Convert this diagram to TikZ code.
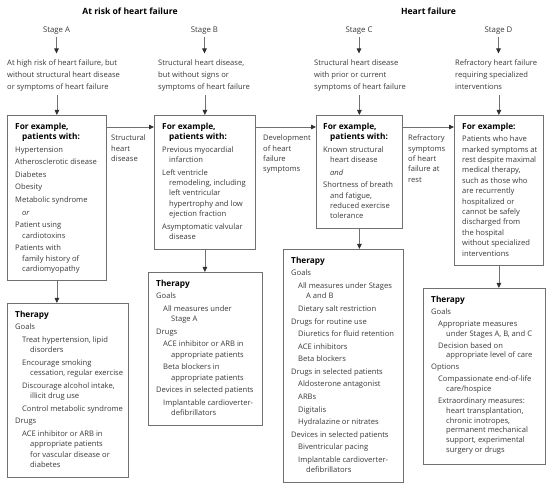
\documentclass[tikz,border=0pt]{standalone}
\usepackage{fontspec}
\setmainfont{Open Sans}
\usetikzlibrary{arrows.meta}
\definecolor{txtgray}{HTML}{3A3A3A}
\definecolor{boxgray}{HTML}{707070}
\definecolor{arrgray}{HTML}{707070}
\definecolor{headgray}{HTML}{303030}
\newcommand{\bodyfont}{\fontsize{7.6}{10.4}\selectfont}
\newcommand{\tightfont}{\fontsize{7.6}{9.8}\selectfont}
\newcommand{\descfont}{\fontsize{7.6}{12}\selectfont}
\newcommand{\boldhd}[1]{{\fontsize{8.3}{10.4}\selectfont\bfseries\color{black}#1}}
\newcommand{\indA}{\hspace*{7pt}}
\newcommand{\indB}{\hspace*{15pt}}
\newcommand{\topstrut}{\rule{0pt}{7pt}}
\newcommand{\botstrut}{\rule[-2.5pt]{0pt}{2.5pt}}
\begin{document}
\begin{tikzpicture}[x=1pt,y=-1pt,
  box/.style={draw=boxgray, line width=0.8pt, anchor=north west, inner sep=0pt},
  txt/.style={anchor=north west, inner sep=0pt, align=left, font=\bodyfont, text=txtgray},
  desc/.style={anchor=north west, inner sep=0pt, align=left, font=\descfont, text=txtgray},
  stage/.style={inner sep=2pt, font=\fontsize{7.8}{10}\selectfont, text=txtgray},
  title/.style={inner sep=1pt, font=\fontsize{8.6}{10}\selectfont\bfseries, text=black},
  arr/.style={draw=arrgray, line width=0.8pt, -{Triangle[length=5pt,width=4.5pt,color=headgray]}},
]
\fill[white] (0,0) rectangle (550,489);
\useasboundingbox (0,0) rectangle (550,489);

% titles
\node[title] (t1) at (130,11) {At risk of heart failure};
\node[title] (t2) at (428.5,11) {Heart failure};

% stages
\node[stage] (stA) at (56.5,31) {Stage A};
\node[stage] (stB) at (204.5,31) {Stage B};
\node[stage] (stC) at (359,31) {Stage C};
\node[stage] (stD) at (498.5,31) {Stage D};

% descriptions
\node[desc] (dA) at (7,58.5) {\topstrut At high risk of heart failure, but\\ without structural heart disease\\ or symptoms of heart failure\botstrut};
\node[desc] (dB) at (158,58.5) {\topstrut Structural heart disease,\\ but without signs or\\ symptoms of heart failure\botstrut};
\node[desc] (dC) at (314,58.5) {\topstrut Structural heart disease\\ with prior or current\\ symptoms of heart failure\botstrut};
\node[desc] (dD) at (455,58.5) {\topstrut Refractory heart failure\\ requiring specialized\\ interventions\botstrut};

% example boxes
\node[box, minimum width=99pt, minimum height=165.4pt] (exA) at (7,115) {};
\node[box, minimum width=101pt, minimum height=133.6pt] (exB) at (154,115) {};
\node[box, minimum width=86pt, minimum height=112.8pt] (exC) at (316,115) {};
\node[box, minimum width=89pt, minimum height=150pt] (exD) at (454,115) {};

% therapy boxes
\node[box, minimum width=121pt, minimum height=173.6pt] (thA) at (7,303) {};
\node[box, minimum width=114pt, minimum height=152.8pt] (thB) at (148,272) {};
\node[box, minimum width=120pt, minimum height=232.8pt] (thC) at (283,249) {};
\node[box, minimum width=122pt, minimum height=175.6pt] (thD) at (423,288) {};

% example texts
\node[txt] (exAt) at (15,122) {\topstrut\boldhd{For example,}\\
\indA\boldhd{patients with:}\\[2.2pt]
Hypertension\\[2.2pt]
Atherosclerotic disease\\[2.2pt]
Diabetes\\[2.2pt]
Obesity\\[2.2pt]
Metabolic syndrome\\[2.2pt]
\indA\textit{or}\\[2.2pt]
Patient using\\
\indA cardiotoxins\\[2.2pt]
Patients with\\
\indA family history of\\
\indA cardiomyopathy};

\node[txt] (exBt) at (162,122) {\topstrut\boldhd{For example,}\\
\indA\boldhd{patients with:}\\[2.2pt]
Previous myocardial\\
\indA infarction\\[2.2pt]
Left ventricle\\
\indA remodeling, including\\
\indA left ventricular\\
\indA hypertrophy and low\\
\indA ejection fraction\\[2.2pt]
Asymptomatic valvular\\
\indA disease};

\node[txt] (exCt) at (323,122) {\topstrut\boldhd{For example,}\\
\indA\boldhd{patients with:}\\[2.2pt]
Known structural\\
\indA heart disease\\[2.2pt]
\indA\textit{and}\\[2.2pt]
Shortness of breath\\
\indA and fatigue,\\
\indA reduced exercise\\
\indA tolerance};

\node[txt] (exDt) at (462,122) {\topstrut\boldhd{For example:}\\[2.2pt]
Patients who have\\
marked symptoms at\\
rest despite maximal\\
medical therapy,\\
such as those who\\
are recurrently\\
hospitalized or\\
cannot be safely\\
discharged from\\
the hospital\\
without specialized\\
interventions};

% therapy texts
\node[txt] (thAt) at (15,310) {\topstrut\boldhd{Therapy}\\[2.2pt]
Goals\\[2.2pt]
\indA Treat hypertension, lipid\\
\indB disorders\\[2.2pt]
\indA Encourage smoking\\
\indB cessation, regular exercise\\[2.2pt]
\indA Discourage alcohol intake,\\
\indB illicit drug use\\[2.2pt]
\indA Control metabolic syndrome\\[2.2pt]
Drugs\\[2.2pt]
\indA ACE inhibitor or ARB in\\
\indB appropriate patients\\
\indB for vascular disease or\\
\indB diabetes};

\node[txt] (thBt) at (156,279) {\topstrut\boldhd{Therapy}\\[2.2pt]
Goals\\[2.2pt]
\indA All measures under\\
\indB Stage A\\[2.2pt]
Drugs\\[2.2pt]
\indA ACE inhibitor or ARB in\\
\indB appropriate patients\\[2.2pt]
\indA Beta blockers in\\
\indB appropriate patients\\[2.2pt]
Devices in selected patients\\[2.2pt]
\indA Implantable cardioverter-\\
\indB defibrillators};

\node[txt] (thCt) at (291,256) {\topstrut\boldhd{Therapy}\\[2.2pt]
Goals\\[2.2pt]
\indA All measures under Stages\\
\indB A and B\\[2.2pt]
\indA Dietary salt restriction\\[2.2pt]
Drugs for routine use\\[2.2pt]
\indA Diuretics for fluid retention\\[2.2pt]
\indA ACE inhibitors\\[2.2pt]
\indA Beta blockers\\[2.2pt]
Drugs in selected patients\\[2.2pt]
\indA Aldosterone antagonist\\[2.2pt]
\indA ARBs\\[2.2pt]
\indA Digitalis\\[2.2pt]
\indA Hydralazine or nitrates\\[2.2pt]
Devices in selected patients\\[2.2pt]
\indA Biventricular pacing\\[2.2pt]
\indA Implantable cardioverter-\\
\indB defibrillators};

\node[txt, font=\tightfont] (thDt) at (431,295) {\topstrut\boldhd{Therapy}\\[2.2pt]
Goals\\[2.2pt]
\indA Appropriate measures\\
\indB under Stages A, B, and C\\[2.2pt]
\indA Decision based on\\
\indB appropriate level of care\\[2.2pt]
Options\\[2.2pt]
\indA Compassionate end-of-life\\
\indB care/hospice\\[2.2pt]
\indA Extraordinary measures:\\
\indB heart transplantation,\\
\indB chronic inotropes,\\
\indB permanent mechanical\\
\indB support, experimental\\
\indB surgery or drugs};

% arrow labels
\node[txt] (l1) at (111,133.5) {\topstrut Structural\\ heart\\ disease};
\node[txt] (l2) at (263,133.5) {\topstrut Development\\ of heart\\ failure\\ symptoms};
\node[txt] (l3) at (408,133.5) {\topstrut Refractory\\ symptoms\\ of heart\\ failure at\\ rest};

% arrows: stage -> description
\foreach \s/\d in {stA/dA, stB/dB, stC/dC, stD/dD}
  \draw[arr] (\s.south) -- ([yshift=5pt]\s.south |- \d.north);
% description -> example box
\foreach \d/\e in {dA/exA, dB/exB, dC/exC, dD/exD}
  \draw[arr] ([yshift=-3pt]\e.north |- \d.south) -- (\e.north);
% horizontal progression
\draw[arr] ([yshift=-12pt]exA.north east) -- ([yshift=-12pt]exB.north west);
\draw[arr] ([yshift=-12pt]exB.north east) -- ([yshift=-12pt]exC.north west);
\draw[arr] ([yshift=-12pt]exC.north east) -- ([yshift=-12pt]exD.north west);
% example -> therapy
\foreach \e/\t in {exA/thA, exB/thB, exC/thC, exD/thD}
  \draw[arr] (\e.south) -- (\e.south |- \t.north);
\end{tikzpicture}
\end{document}
